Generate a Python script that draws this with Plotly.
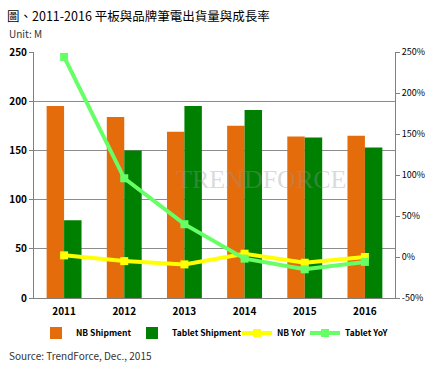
import plotly.graph_objects as go

years = ["2011", "2012", "2013", "2014", "2015", "2016"]
nb_shipment = [195, 184, 169, 175, 164, 165]
tablet_shipment = [79, 150, 195, 191, 163, 153]
nb_yoy = [2, -5, -9, 4, -7, 0]
tablet_yoy = [244, 96, 40, -2, -15, -6]

left_ticks = [0, 50, 100, 150, 200, 250]
right_ticks = [-50, 0, 50, 100, 150, 200, 250]
right_labels = [f"{v}%" for v in right_ticks]

font_main = "Noto Sans CJK TC, Noto Sans, sans-serif"
W, H = 439, 366

fig = go.Figure()
fig.add_trace(go.Bar(x=years, y=nb_shipment, name="<b>NB Shipment</b>", legend="legend",
                     marker=dict(color="#E46C0A", line=dict(width=0))))
fig.add_trace(go.Bar(x=years, y=tablet_shipment, name="<b>Tablet Shipment</b>", legend="legend2",
                     marker=dict(color="#008000", line=dict(width=0))))
fig.add_trace(go.Scatter(x=years, y=nb_yoy, name="<b>NB YoY</b>", yaxis="y2", legend="legend3",
                         mode="lines+markers",
                         line=dict(color="#FFFF00", width=4),
                         marker=dict(symbol="square", size=8, color="#FFFF00")))
fig.add_trace(go.Scatter(x=years, y=tablet_yoy, name="<b>Tablet YoY</b>", yaxis="y2", legend="legend4",
                         mode="lines+markers",
                         line=dict(color="#66FF66", width=4),
                         marker=dict(symbol="square", size=8, color="#66FF66")))

def leg(xpx):
    return dict(orientation="h", xref="container", yref="container",
                x=xpx / W, xanchor="left", y=1 - 333 / H, yanchor="middle",
                font=dict(size=8.5, family=font_main), itemwidth=30,
                bgcolor="rgba(0,0,0,0)")

fig.update_layout(
    width=W, height=H,
    margin=dict(l=34, r=44, t=52, b=68, autoexpand=False),
    paper_bgcolor="white", plot_bgcolor="white",
    font=dict(family=font_main, size=10, color="#000000"),
    barmode="group", bargap=0.42, bargroupgap=0,
    showlegend=True,
    legend=leg(36), legend2=leg(132), legend3=leg(237), legend4=leg(305),
    xaxis=dict(type="category", showgrid=False, showline=True, linecolor="#808080",
               ticks="", tickfont=dict(size=10, family=font_main, weight="bold"),
               ticklabelstandoff=4, automargin=False),
    yaxis=dict(range=[0, 250], tickvals=left_ticks, showgrid=True,
               gridcolor="#8C8C8C", gridwidth=1, showline=True, linecolor="#808080",
               ticks="outside", ticklen=4, tickcolor="#808080",
               tickfont=dict(size=10, family=font_main, weight="bold"),
               zeroline=False, automargin=False),
    yaxis2=dict(range=[-50, 250], tickvals=right_ticks, ticktext=right_labels,
                overlaying="y", side="right", showgrid=False, showline=True,
                linecolor="#808080", ticks="outside", ticklen=4, tickcolor="#808080",
                tickfont=dict(size=9, family=font_main), zeroline=False,
                automargin=False),
    annotations=[
        dict(text="圖、2011-2016 平板與品牌筆電出貨量與成長率", xref="paper", yref="paper",
             x=-29/361, y=1 + 37/246, xanchor="left", yanchor="middle", showarrow=False,
             font=dict(size=12.5, family=font_main, color="#000")),
        dict(text="Unit: M", xref="paper", yref="paper",
             x=-27/361, y=1 + 19/246, xanchor="left", yanchor="middle", showarrow=False,
             font=dict(size=10, family=font_main, color="#333")),
        dict(text="Source: TrendForce, Dec., 2015", xref="paper", yref="paper",
             x=-27/361, y=-57/246, xanchor="left", yanchor="middle", showarrow=False,
             font=dict(size=10, family=font_main, color="#333")),
        dict(text="TRENDFORCE", xref="paper", yref="paper",
             x=0.63, y=0.48, xanchor="center", yanchor="middle", showarrow=False,
             font=dict(size=26, family="Liberation Serif, serif", color="rgba(150,150,150,0.35)")),
    ],
)

fig.write_html("out.html", post_script="document.body.style.margin='0px';",
               config={"displayModeBar": False})
